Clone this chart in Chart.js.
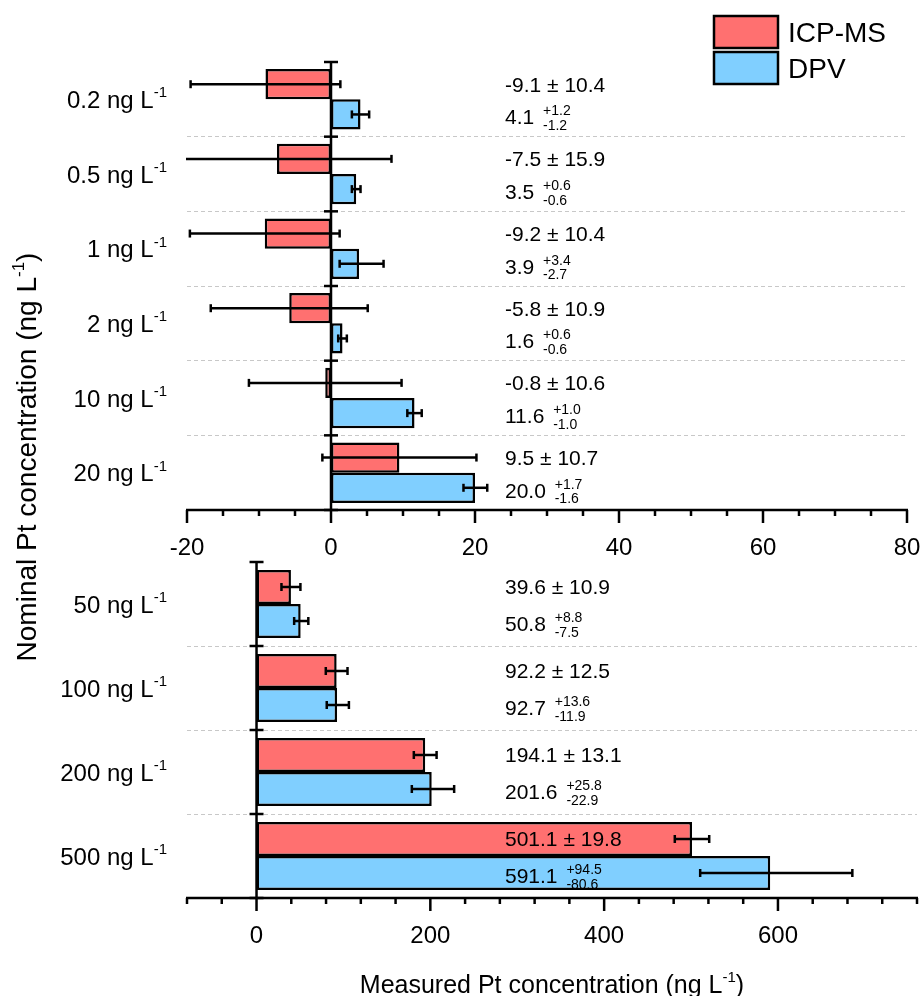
<!DOCTYPE html>
<html>
<head>
<meta charset="utf-8">
<script src="https://cdn.jsdelivr.net/npm/chart.js@4.4.1/dist/chart.umd.min.js"></script>
<style>
  html, body { margin: 0; padding: 0; background: #fff; }
  #wrap { position: relative; width: 924px; height: 996px; }
  #wrap canvas { position: absolute; left: 0; top: 0; }
</style>
</head>
<body>
<div id="wrap">
  <canvas id="top-chart" width="924" height="996"></canvas>
  <canvas id="bottom-chart" width="924" height="996"></canvas>
</div>
<script>
// nominal concentrations (ng L-1)
const topLabels = ['0.2', '0.5', '1', '2', '10', '20'];
const topIcp = [-9.1, -7.5, -9.2, -5.8, -0.8, 9.5];
const topIcpErr = [10.4, 15.9, 10.4, 10.9, 10.6, 10.7];
const topDpv = [4.1, 3.5, 3.9, 1.6, 11.6, 20.0];
const topDpvPlus = [1.2, 0.6, 3.4, 0.6, 1.0, 1.7];
const topDpvMinus = [1.2, 0.6, 2.7, 0.6, 1.0, 1.6];

const botLabels = ['50', '100', '200', '500'];
const botIcp = [39.6, 92.2, 194.1, 501.1];
const botIcpErr = [10.9, 12.5, 13.1, 19.8];
const botDpv = [50.8, 92.7, 201.6, 591.1];
const botDpvPlus = [8.8, 13.6, 25.8, 94.5];
const botDpvMinus = [7.5, 11.9, 22.9, 80.6];

// x axis ranges: min, max, minor step, labelled step
const topAxis = [-20, 80, 5, 20];
const botAxis = [-80, 760, 40, 200];

const FONT = "'Liberation Sans', Arial, sans-serif";
const RED = '#FF7070';
const BLUE = '#80CFFF';

function line(ctx, x1, y1, x2, y2) {
    ctx.beginPath(); ctx.moveTo(x1, y1); ctx.lineTo(x2, y2); ctx.stroke();
}

// draws text runs with different sizes / rises on one baseline
function drawRich(ctx, parts, x, y, align) {
    let w = 0;
    parts.forEach(p => { ctx.font = p.s + 'px ' + FONT; p.w = ctx.measureText(p.t).width; w += p.w; });
    let cx = align === 'right' ? x - w : align === 'center' ? x - w / 2 : x;
    ctx.textAlign = 'left'; ctx.textBaseline = 'alphabetic';
    parts.forEach(p => { ctx.font = p.s + 'px ' + FONT; ctx.fillText(p.t, cx, y - (p.r || 0)); cx += p.w; });
    return w;
}

function errorBar(ctx, area, xs, y, lo, hi) {
    const a = xs.getPixelForValue(lo), b = xs.getPixelForValue(hi);
    line(ctx, Math.max(a, area.left - 1), y, Math.min(b, area.right), y);
    if (a >= area.left - 1) line(ctx, a, y - 4, a, y + 4);
    if (b <= area.right) line(ctx, b, y - 4, b, y + 4);
}

const fmt = v => v.toFixed(1);

function makePanel(id, labels, icp, icpErr, dpv, plus, minus, axis, pad, xHeight, extra) {
    const [min, max, step, major] = axis;
    const decor = {
        id: 'decor',
        afterDraw(chart) {
            const { ctx, chartArea: area } = chart;
            const xs = chart.scales.x, ys = chart.scales.y;
            ctx.save();
            ctx.strokeStyle = '#000'; ctx.fillStyle = '#000'; ctx.lineWidth = 2.5;

            const icpBars = chart.getDatasetMeta(0).data, dpvBars = chart.getDatasetMeta(1).data;
            icp.forEach((v, i) => {
                errorBar(ctx, area, xs, icpBars[i].y, v - icpErr[i], v + icpErr[i]);
                errorBar(ctx, area, xs, dpvBars[i].y, dpv[i] - minus[i], dpv[i] + plus[i]);
            });

            // zero line with category boundary ticks
            const x0 = xs.getPixelForValue(0);
            line(ctx, x0, area.top, x0, area.bottom);
            for (let i = 0; i <= labels.length; i++) {
                const y = ys.getPixelForValue(i - 0.5);
                line(ctx, x0 - 7, y, x0 + 7, y);
            }

            // x axis line + major/minor ticks + labels
            line(ctx, area.left - 1, area.bottom, area.right + 1, area.bottom);
            xs.ticks.forEach(t => {
                const x = xs.getPixelForValue(t.value);
                const isMajor = t.value % major === 0;
                line(ctx, x, area.bottom, x, area.bottom + (isMajor ? 13 : 6));
                if (isMajor) drawRich(ctx, [{ t: String(t.value), s: 24 }], x, area.bottom + 45, 'center');
            });

            // category labels
            labels.forEach((lab, i) => {
                drawRich(ctx, [{ t: lab + ' ng L', s: 24 }, { t: '-1', s: 15, r: 10.5 }], 167, ys.getPixelForValue(i) + 8.5, 'right');
            });

            // value annotations
            const ax = 505;
            icp.forEach((v, i) => {
                drawRich(ctx, [{ t: fmt(v) + ' \u00B1 ' + fmt(icpErr[i]), s: 21 }], ax, icpBars[i].y + 7.5, 'left');
                const yb = dpvBars[i].y;
                const w = drawRich(ctx, [{ t: fmt(dpv[i]) + ' ', s: 21 }], ax, yb + 10, 'left');
                drawRich(ctx, [{ t: '+' + fmt(plus[i]), s: 14 }], ax + w + 3, yb + 1, 'left');
                drawRich(ctx, [{ t: '-' + fmt(minus[i]), s: 14 }], ax + w + 3, yb + 15.5, 'left');
            });

            if (extra) extra(ctx, chart);
            ctx.restore();
        }
    };

    return new Chart(document.getElementById(id).getContext('2d'), {
        type: 'bar',
        data: {
            labels: labels,
            datasets: [
                { label: 'ICP-MS', data: icp, backgroundColor: RED, borderColor: '#000', borderWidth: 2.5, borderSkipped: false },
                { label: 'DPV', data: dpv, backgroundColor: BLUE, borderColor: '#000', borderWidth: 2.5, borderSkipped: false }
            ]
        },
        options: {
            indexAxis: 'y',
            responsive: false,
            animation: false,
            categoryPercentage: 0.81,
            barPercentage: 1.0,
            layout: { padding: pad },
            plugins: { legend: { display: false }, tooltip: { enabled: false } },
            scales: {
                x: {
                    type: 'linear', min: min, max: max,
                    grid: { display: false, drawTicks: false },
                    border: { display: false },
                    ticks: { display: false, stepSize: step, autoSkip: false, maxRotation: 0 },
                    afterFit: s => { s.height = xHeight; }
                },
                y: {
                    ticks: { display: false },
                    border: { display: false, dash: [4, 3] },
                    grid: {
                        offset: true, drawTicks: false, lineWidth: 1,
                        color: c => (c.index === undefined || c.index === 0) ? 'rgba(0,0,0,0)' : '#c8c8c8'
                    },
                    afterFit: s => { s.width = 0; }
                }
            }
        },
        plugins: [decor]
    });
}

// top panel: legend and shared y title
makePanel('top-chart', topLabels, topIcp, topIcpErr, topDpv, topDpvPlus, topDpvMinus, topAxis,
    { left: 187, right: 17, top: 62, bottom: 436 }, 50,
    (ctx, chart) => {
        chart.data.datasets.forEach((ds, i) => {
            const y = 16 + i * 36;
            ctx.fillStyle = ds.backgroundColor;
            ctx.fillRect(714, y, 64, 32);
            ctx.lineWidth = 2.5;
            ctx.strokeRect(714, y, 64, 32);
            ctx.fillStyle = '#000';
            drawRich(ctx, [{ t: ds.label, s: 28 }], 788, y + 26, 'left');
        });
        ctx.save();
        ctx.translate(36, 457);
        ctx.rotate(-Math.PI / 2);
        drawRich(ctx, [{ t: 'Nominal Pt concentration (ng L', s: 28 }, { t: '-1', s: 17, r: 12 }, { t: ')', s: 28 }], 0, 0, 'center');
        ctx.restore();
    });

// bottom panel: x title
makePanel('bottom-chart', botLabels, botIcp, botIcpErr, botDpv, botDpvPlus, botDpvMinus, botAxis,
    { left: 187, right: 7, top: 562, bottom: 0 }, 98,
    (ctx, chart) => {
        const a = chart.chartArea;
        drawRich(ctx, [{ t: 'Measured Pt concentration (ng L', s: 25 }, { t: '-1', s: 15, r: 11 }, { t: ')', s: 25 }], (a.left + a.right) / 2, 993, 'center');
    });
</script>
</body>
</html>
